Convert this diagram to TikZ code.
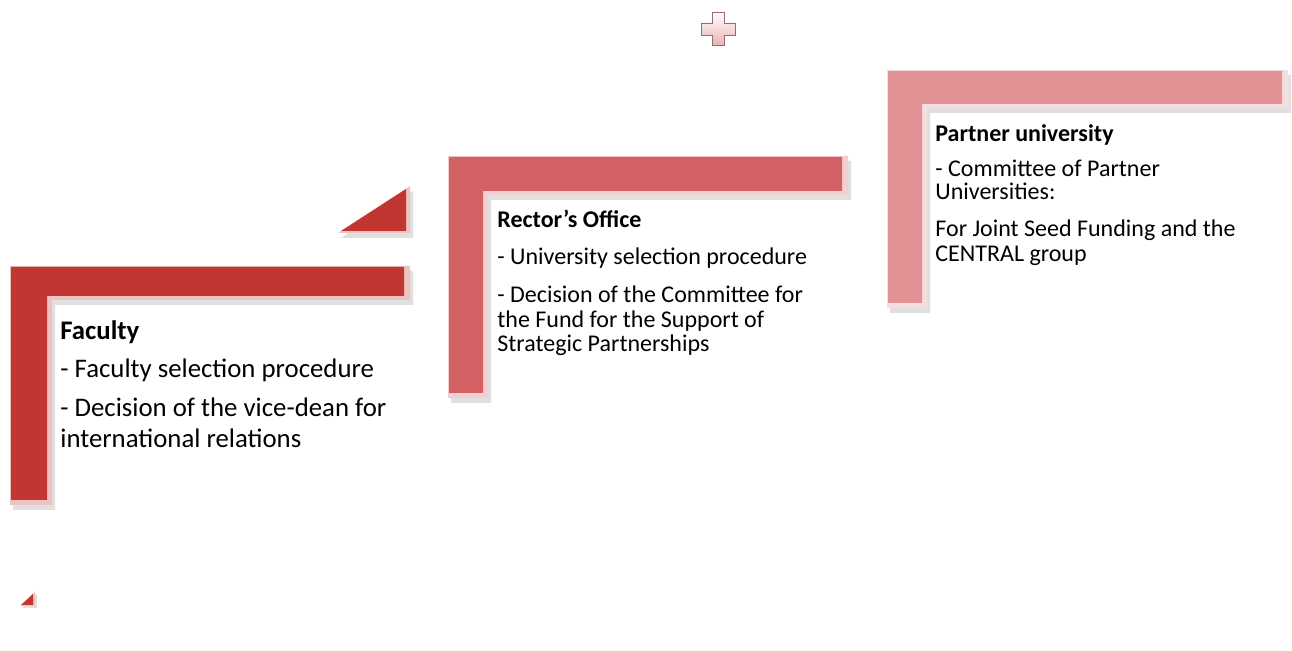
\documentclass[tikz,border=0pt]{standalone}
\usepackage{fontspec}
\setmainfont{Carlito}
\newlength{\du}
\setlength{\du}{0.5pt}
\definecolor{facultyred}{RGB}{194,54,50}
\definecolor{rectorred}{RGB}{211,96,98}
\definecolor{partnerred}{RGB}{226,146,148}
\definecolor{plusline}{RGB}{150,108,110}
\tikzset{
  dropshade/.style={fill=black!30, opacity=0.4},
  bevelrim/.style={fill=#1!30!white},
  bevelface/.style={fill=#1},
  steptext/.style={anchor=base west, inner sep=0pt, font=\fontsize{12}{14}\selectfont},
  bigsteptext/.style={steptext, font=\fontsize{13.4}{16}\selectfont},
}

\begin{document}
\begin{tikzpicture}
\pgftransformxscale{1.000000}
\pgftransformyscale{-1.000000}
\useasboundingbox (0\du,0\du) rectangle (1292\du,651\du);
% plus sign
\shade[top color=white, bottom color=partnerred!70!white, draw=plusline, line width=0.8\du]
  (712\du,12\du)--(724\du,12\du)--(724\du,23\du)--(735\du,23\du)--(735\du,35\du)--(724\du,35\du)
  --(724\du,45\du)--(712\du,45\du)--(712\du,35\du)--(701\du,35\du)--(701\du,23\du)--(712\du,23\du)--cycle;
% faculty step
\fill[dropshade] (13\du,271\du)--(413\du,271\du)--(413\du,305\du)--(55\du,305\du)--(55\du,510\du)--(13\du,510\du)--cycle;
\fill[bevelrim=facultyred] (10\du,266\du)--(410\du,266\du)--(410\du,300\du)--(52\du,300\du)--(52\du,505\du)--(10\du,505\du)--cycle;
\fill[bevelface=facultyred] (11\du,267\du)--(404\du,267\du)--(404\du,296\du)--(47\du,296\du)--(47\du,500\du)--(11\du,500\du)--cycle;
% rector step
\fill[dropshade] (451\du,161\du)--(851\du,161\du)--(851\du,200\du)--(491\du,200\du)--(491\du,403\du)--(451\du,403\du)--cycle;
\fill[bevelrim=rectorred] (448\du,156\du)--(848\du,156\du)--(848\du,195\du)--(488\du,195\du)--(488\du,398\du)--(448\du,398\du)--cycle;
\fill[bevelface=rectorred] (449\du,157\du)--(842\du,157\du)--(842\du,191\du)--(483\du,191\du)--(483\du,393\du)--(449\du,393\du)--cycle;
% partner step
\fill[dropshade] (890\du,75\du)--(1291\du,75\du)--(1291\du,113\du)--(930\du,113\du)--(930\du,313\du)--(890\du,313\du)--cycle;
\fill[bevelrim=partnerred] (887\du,70\du)--(1288\du,70\du)--(1288\du,108\du)--(927\du,108\du)--(927\du,308\du)--(887\du,308\du)--cycle;
\fill[bevelface=partnerred] (888\du,71\du)--(1282\du,71\du)--(1282\du,104\du)--(922\du,104\du)--(922\du,303\du)--(888\du,303\du)--cycle;
% triangles
\fill[dropshade] (341\du,238\du)--(413\du,191\du)--(413\du,238\du)--cycle;
\fill[bevelrim=facultyred] (338\du,233\du)--(410\du,186\du)--(410\du,233\du)--cycle;
\fill[bevelface=facultyred] (341\du,231\du)--(406\du,189\du)--(406\du,231\du)--cycle;
\fill[dropshade] (22\du,608\du)--(37\du,594\du)--(37\du,608\du)--cycle;
\fill[bevelrim=facultyred] (20\du,606\du)--(35\du,592\du)--(35\du,606\du)--cycle;
\fill[bevelface=facultyred] (21\du,605\du)--(33\du,594\du)--(33\du,605\du)--cycle;
% texts
\node[bigsteptext] (facHead) at (60\du,340\du){\textbf{Faculty}};
\node[bigsteptext] (fac1) at (60\du,378\du){- Faculty selection procedure};
\node[bigsteptext] (fac2a) at (60\du,417\du){- Decision of the vice-dean for};
\node[bigsteptext] (fac2b) at (60\du,448\du){international relations};
\node[steptext] (rectorHead) at (497\du,228\du){\textbf{Rector’s Office}};
\node[steptext] (rector1) at (497\du,265\du){- University selection procedure};
\node[steptext] (rector2a) at (497\du,303\du){- Decision of the Committee for};
\node[steptext] (rector2b) at (497\du,328\du){the Fund for the Support of};
\node[steptext] (rector2c) at (497\du,352\du){Strategic Partnerships};
\node[steptext] (partnerHead) at (935\du,142\du){\textbf{Partner university}};
\node[steptext] (partner1a) at (935\du,177\du){- Committee of Partner};
\node[steptext] (partner1b) at (935\du,200\du){Universities:};
\node[steptext] (partner2a) at (935\du,237\du){For Joint Seed Funding and the};
\node[steptext] (partner2b) at (935\du,262\du){CENTRAL group};
\end{tikzpicture}
\end{document}
